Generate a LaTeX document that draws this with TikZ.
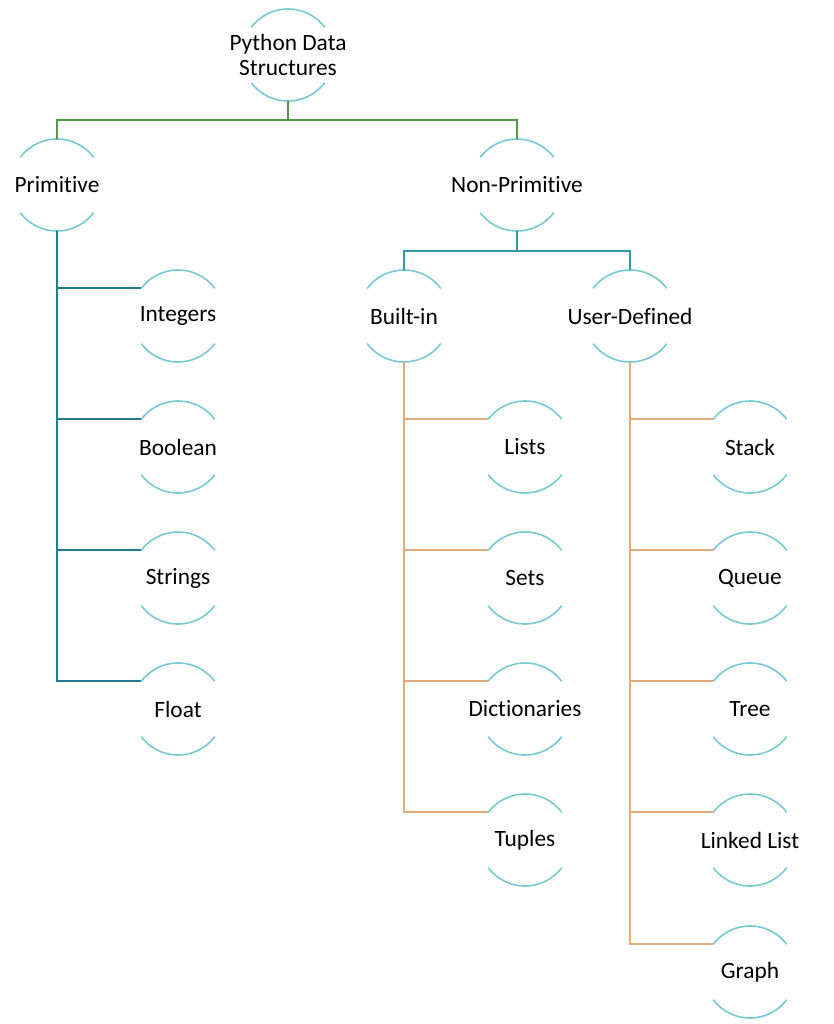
\documentclass[tikz,border=0pt]{standalone}
\usepackage{fontspec}
\setmainfont{Carlito}[Ligatures={NoCommon,NoDiscretionary}]
\usepackage{xcolor}
\usetikzlibrary{positioning}

\definecolor{arcteal}{RGB}{118,200,210}
\definecolor{rootgreen}{RGB}{84,150,74}
\definecolor{primblue}{RGB}{36,122,142}
\definecolor{nonpblue}{RGB}{52,150,174}
\definecolor{linkorange}{RGB}{228,172,124}

\tikzset{
  dsnode/.style={circle, minimum size=92*0.02cm, inner sep=0pt, outer sep=0pt,
    font=\fontsize{13.3pt}{15pt}\selectfont, text=black},
  dsarc/.style={arcteal, line width=0.9pt},
  rootline/.style={rootgreen, line width=1pt},
  primline/.style={primblue, line width=1pt},
  nonpline/.style={nonpblue, line width=1pt},
  orangeline/.style={linkorange, line width=1pt}
}

\begin{document}
\begin{tikzpicture}[x=0.02cm, y=0.02cm]

\useasboundingbox (0,0) rectangle (833,-1024);

% top levels
\node[dsnode] (root) at (288,-55) {\makebox[0pt]{\shortstack{Python Data\\Structures}}};
\node[dsnode] (prim) at (57,-185) {\makebox[0pt]{Primitive}};
\node[dsnode] (nonp) at (517,-185) {\makebox[0pt]{Non-Primitive}};
\node[dsnode] (builtin) at (404,-316) {\makebox[0pt]{Built-in}};
\node[dsnode] (userdef) at (630,-316) {\makebox[0pt]{User-Defined}};

% primitive
\node[dsnode] (integers) at (178,-316) {\makebox[0pt]{Integers}};
\node[dsnode] (boolean) at (178,-447) {\makebox[0pt]{Boolean}};
\node[dsnode] (strings) at (178,-578) {\makebox[0pt]{Strings}};
\node[dsnode] (float) at (178,-709) {\makebox[0pt]{Float}};

% built-in
\node[dsnode] (lists) at (525,-447) {\makebox[0pt]{Lists}};
\node[dsnode] (sets) at (525,-578) {\makebox[0pt]{Sets}};
\node[dsnode] (dicts) at (525,-709) {\makebox[0pt]{Dictionaries}};
\node[dsnode] (tuples) at (525,-840) {\makebox[0pt]{Tuples}};

% user-defined
\node[dsnode] (stack) at (750,-447) {\makebox[0pt]{Stack}};
\node[dsnode] (queue) at (750,-578) {\makebox[0pt]{Queue}};
\node[dsnode] (tree) at (750,-709) {\makebox[0pt]{Tree}};
\node[dsnode] (linked) at (750,-840) {\makebox[0pt]{Linked List}};
\node[dsnode] (graph) at (750,-972) {\makebox[0pt]{Graph}};

% arcs
\foreach \n in {root,prim,nonp,builtin,userdef,integers,boolean,strings,float,
  lists,sets,dicts,tuples,stack,queue,tree,linked,graph}
{
\draw[dsarc] (\n.37) arc[start angle=37, end angle=143, radius=46];
\draw[dsarc] (\n.217) arc[start angle=217, end angle=323, radius=46];
}

% green lines
\draw[rootline] (root.south) -- ++(0,-19) -| (prim.north);
\draw[rootline] (root.south) -- ++(0,-19) -| (nonp.north);

% blue lines
\foreach \c in {integers,boolean,strings,float}
\draw[primline] (prim.south) |- (\c.143);

\draw[nonpline] (nonp.south) -- ++(0,-20) -| (builtin.north);
\draw[nonpline] (nonp.south) -- ++(0,-20) -| (userdef.north);

% orange lines
\foreach \c in {lists,sets,dicts,tuples}
\draw[orangeline] (builtin.south) |- (\c.143);
\foreach \c in {stack,queue,tree,linked,graph}
\draw[orangeline] (userdef.south) |- (\c.143);

\end{tikzpicture}
\end{document}
